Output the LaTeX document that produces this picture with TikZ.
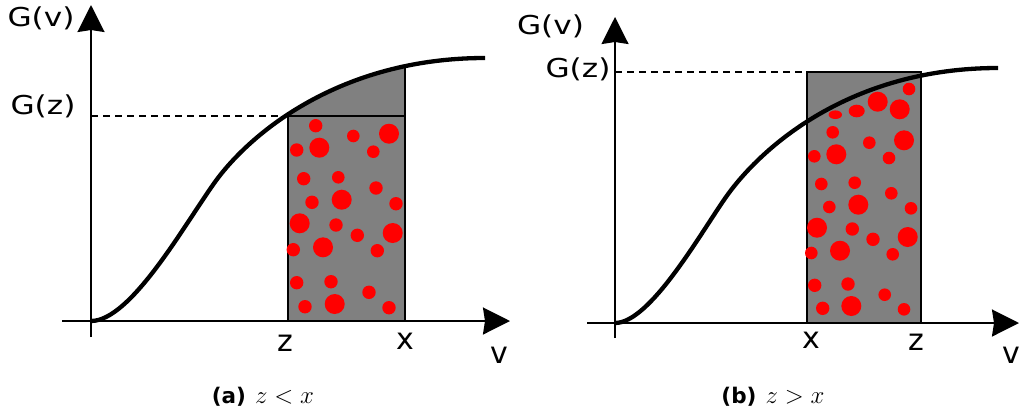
\documentclass[tikz,border=0pt]{standalone}
\usepackage{fontspec}
\newfontfamily\labfont{DejaVu Sans}
\usetikzlibrary{arrows.meta}
\definecolor{boxgray}{HTML}{808080}
\definecolor{dotred}{HTML}{FF0000}
\begin{document}
\begin{tikzpicture}[x=1pt,y=-1pt,
  axisline/.style={line width=2pt,-{Stealth[length=27pt,width=27pt,inset=2pt]}},
  cdf/.style={line width=4.3pt,line join=round},
  boxline/.style={draw=black,line width=2pt},
  guide/.style={line width=1.5pt,dash pattern=on 7pt off 5pt},
  dot/.style={fill=dotred},
  glab/.style={font=\labfont\fontsize{26}{26}\selectfont,xscale=1.2,inner sep=0pt},
  alab/.style={font=\labfont\fontsize{30}{30}\selectfont,inner sep=0pt},
  captext/.style={font=\labfont\bfseries\fontsize{21.5}{21.5}\selectfont,inner sep=0pt}]
\useasboundingbox (0,0) rectangle (1019,416);

% ================= panel (a) =================
\fill[boxgray] (288,116) rectangle (405,321);
\begin{scope}
  \clip (91,321) .. controls (131,321) and (185,223.7) .. (215,182) .. controls (250,133.4) and (340,58) .. (485,58) -- (485,321) -- cycle;
  \fill[boxgray] (288,116) rectangle (405,20);
  \draw[boxline] (405,116) -- (405,20);
\end{scope}
\draw[boxline] (288,116) rectangle (405,321);
\foreach \x/\y/\r in {315.7/125.7/6.7, 353.3/136/6.3, 389/133.7/10, 296.7/150/6.7, 319.3/147.7/10, 373.3/151.7/6.3,
  303.7/178.7/6.7, 338.3/177.3/6.3, 376/188/6.7, 312/202.3/6.7, 341.7/199.7/10, 396/203.7/6.7,
  299.7/223.3/10, 336/225/6.7, 357.3/235.3/6.7, 392.7/233/10, 293.3/249.7/6.7, 323/247.3/10, 377.3/250.7/6.7,
  296.7/282.7/6.7, 331/281.7/6.7, 369/292.3/6.7, 305/306.7/6.7, 334.7/304/10, 389/307.7/6.7}
  \fill[dot] (\x,\y) circle (\r pt);
\draw[cdf] (91,321) .. controls (131,321) and (185,223.7) .. (215,182) .. controls (250,133.4) and (340,58) .. (485,58);

\coordinate (aXs) at (62,321);
\coordinate (aXe) at (510,321);
\coordinate (aYs) at (91,337);
\coordinate (aYe) at (91,5);
\coordinate (aGz) at (91,116);
\coordinate (aBox) at (288,116);
\draw[axisline] (aXs) -- (aXe);
\draw[axisline] (aYs) -- (aYe);
\draw[guide] (aGz) -- (aBox);

\node[glab] (aGv) at (41,18) {G(v)};
\node[glab] (aGzl) at (43,106) {G(z)};
\node[alab] (az) at (285.5,343) {z};
\node[alab] (ax) at (405,341) {x};
\node[alab] (av) at (499.5,355) {v};
\node[captext] (acap) at (263,397) {(a)\hspace{9pt}{\fontsize{26}{26}\selectfont$z<x$}};

% ================= panel (b) =================
\fill[boxgray] (807,72) rectangle (921,323);
\draw[boxline] (807,72) rectangle (921,323);
\foreach \x/\y/\r in {909/89/6.3, 877.7/101.7/10, 899.7/109.3/10, 832.7/132.3/6.3, 869.3/142.7/6.3, 904/140.3/10,
  814.3/156.3/6.3, 836.3/154.3/10, 889/158/6.3, 821.3/184/6.3, 854.7/182.7/6.3, 891.3/193.3/6.3,
  829.3/207/6.3, 858.3/204.7/10, 911/208.3/6.3, 817/227.7/10, 852.3/229/6.7, 873/239.3/6.7, 907.7/237/10,
  811.3/253/6.3, 840/250.7/10, 892.7/254.3/6.3, 814.7/285.3/6.7, 848/284/6.7, 884.7/294.7/6.3,
  822.7/308.3/6.7, 851.3/306/10, 904/309.3/6.3}
  \fill[dot] (\x,\y) circle (\r pt);
\fill[dot] (856.7,111) ellipse [x radius=8pt, y radius=6.3pt];
\fill[dot] (835.3,114.7) ellipse [x radius=6.7pt, y radius=4.3pt];
\draw[cdf] (615,323) .. controls (650,323) and (700,234) .. (726,197) .. controls (761,147.3) and (850,68) .. (998,68);

\coordinate (bXs) at (587,323);
\coordinate (bXe) at (1019,323);
\coordinate (bYs) at (615,338);
\coordinate (bYe) at (615,17);
\coordinate (bGz) at (615,72);
\coordinate (bBox) at (807,72);
\draw[axisline] (bXs) -- (bXe);
\draw[axisline] (bYs) -- (bYe);
\draw[guide] (bGz) -- (bBox);

\node[glab] (bGv) at (550.5,26) {G(v)};
\node[glab] (bGzl) at (578,69) {G(z)};
\node[alab] (bx) at (811.7,340) {x};
\node[alab] (bz) at (916,342) {z};
\node[alab] (bv) at (1011,355) {v};
\node[captext] (bcap) at (773,397) {(b)\hspace{9pt}{\fontsize{26}{26}\selectfont$z>x$}};
\end{tikzpicture}
\end{document}
